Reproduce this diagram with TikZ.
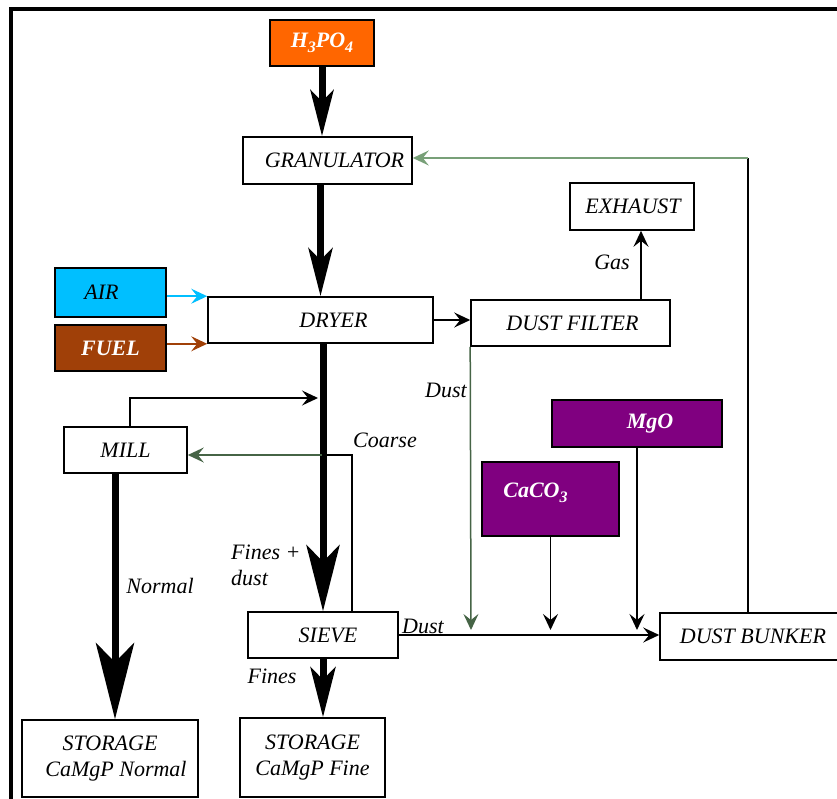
\documentclass[tikz,border=0pt]{standalone}
\usepackage{fontspec}
\setmainfont{Liberation Serif}
\usetikzlibrary{arrows.meta}
\definecolor{acid}{RGB}{255,102,0}
\definecolor{aircol}{RGB}{0,191,255}
\definecolor{fuelcol}{RGB}{160,64,8}
\definecolor{purp}{RGB}{128,0,128}
\definecolor{dkgreen}{RGB}{70,100,70}
\definecolor{ltgreen}{RGB}{120,160,120}
\newcommand{\mysub}[1]{\raisebox{-5pt}{\fontsize{16}{18}\selectfont #1}}
\begin{document}
\begin{tikzpicture}[x=1pt,y=-1pt,
  every node/.style={font=\fontsize{22}{26}\selectfont\itshape},
  box/.style={draw=black,line width=1.6pt,fill=white,inner sep=0pt,align=center},
  wbox/.style={box,text=white,font=\fontsize{22}{26}\selectfont\bfseries\itshape},
  lbl/.style={inner sep=0pt},
  thin arrow/.style={line width=1.5pt,-{Stealth[length=16pt,width=15pt,inset=6pt]}},
  thick arrow/.style={line width=7pt,-{Stealth[length=#1,width=0.5*#1,inset=0.25*#1]}},
  thick arrow/.default=48pt]
\useasboundingbox (0,0) rectangle (837,799);
\fill[white] (0,0) rectangle (837,799);
% frame
\draw[line width=3.5pt] (837,9) -- (11,9) -- (11,799);
% nodes
\node[wbox,fill=acid,minimum width=104pt,minimum height=46pt] (h3po4) at (322,43) {H\mysub{3}PO\mysub{4}};
\node[box,minimum width=169pt,minimum height=47pt] (gran) at (327.5,160.5) {\hspace{14pt}GRANULATOR};
\node[box,fill=aircol,minimum width=111pt,minimum height=49pt] (air) at (110.5,292.5) {\hspace{-18pt}AIR};
\node[wbox,fill=fuelcol,minimum width=111pt,minimum height=46pt] (fuel) at (110.5,348) {FUEL};
\node[box,minimum width=225pt,minimum height=46pt] (dryer) at (320.5,320) {\hspace{26pt}DRYER};
\node[box,minimum width=199pt,minimum height=46pt] (filter) at (570.5,323) {\hspace{4pt}DUST FILTER};
\node[box,minimum width=124pt,minimum height=47pt] (exhaust) at (632,206.5) {\hspace{2pt}EXHAUST};
\node[box,minimum width=123pt,minimum height=46pt] (mill) at (125.5,450) {MILL};
\node[box,minimum width=150pt,minimum height=46pt] (sieve) at (323,635) {\hspace{10pt}SIEVE};
\node[box,minimum width=176pt,minimum height=77pt] (storN) at (110,758.5) {STORAGE\\\hspace{12pt}CaMgP Normal};
\node[box,minimum width=145pt,minimum height=79pt] (storF) at (312.5,757.5) {STORAGE\\CaMgP Fine};
\node[box,minimum width=184pt,minimum height=47pt] (bunker) at (752,636.5) {\hspace{2pt}DUST BUNKER};
\node[wbox,fill=purp,minimum width=137pt,minimum height=74pt] (caco3) at (550.5,499) {\raisebox{18pt}{CaCO\mysub{3}}\hspace{30pt}};
\node[wbox,fill=purp,minimum width=170pt,minimum height=47pt] (mgo) at (637,423.5) {\hspace{26pt}MgO};
% helper coordinates
\coordinate (j1) at (318,398);
\coordinate (c1) at (352,455);
\coordinate (c2) at (322,455);
\coordinate (xN) at (115,0);
\coordinate (xM) at (130,0);
\coordinate (d1) at (471,630);
\coordinate (r1) at (748,158);
\coordinate (g1) at (641,0);
% thick arrows
\draw[thick arrow=46pt] (h3po4.south) -- (gran.north -| h3po4.south);
\draw[thick arrow=48pt] (gran.south -| dryer.north) -- (dryer.north);
\draw[thick arrow=66pt] (dryer.south -| sieve.north) -- (sieve.north);
\draw[thick arrow=76pt] (mill.south -| xN) -- (storN.north -| xN);
\draw[thick arrow=50pt] (sieve.south) -- (storF.north -| sieve.south);
% thin arrows
\draw[thin arrow,draw=aircol] (air.east |- dryer.north west) -- (dryer.north west);
\draw[thin arrow,draw=fuelcol] (fuel.east |- dryer.south west) -- (dryer.south west);
\draw[thin arrow] (dryer.east) -- (dryer.east -| filter.west);
\draw[thin arrow] (filter.north -| g1) -- (exhaust.south -| g1);
\draw[thin arrow] (mill.north -| xM) |- (j1);
\draw[line width=1.2pt] (sieve.north -| c1) -- (c1) -- (c2);
\draw[thin arrow,draw=dkgreen] (c2) -- (c2 -| mill.east);
\draw[thin arrow] (sieve.east) -- (sieve.east -| bunker.west);
\draw[thin arrow,draw=dkgreen] (filter.south west) -- (d1);
\draw[thin arrow] (caco3.south) -- (caco3.south |- d1);
\draw[thin arrow] (mgo.south) -- (mgo.south |- d1);
\draw[line width=1.6pt] (bunker.north -| r1) -- (r1);
\draw[thin arrow,draw=ltgreen] (r1) -- (r1 -| gran.east);
% labels
\node[lbl] (lgas) at (612,262) {Gas};
\node[lbl] (ldust1) at (446,390) {Dust};
\node[lbl] (lcoarse) at (385,440) {Coarse};
\node[lbl,align=left,anchor=west] (lfines) at (231,565) {Fines +\\dust};
\node[lbl] (lnormal) at (160,586) {Normal};
\node[lbl] (ldust2) at (423,626) {Dust};
\node[lbl] (lfines2) at (272,676) {Fines};
\end{tikzpicture}
\end{document}
